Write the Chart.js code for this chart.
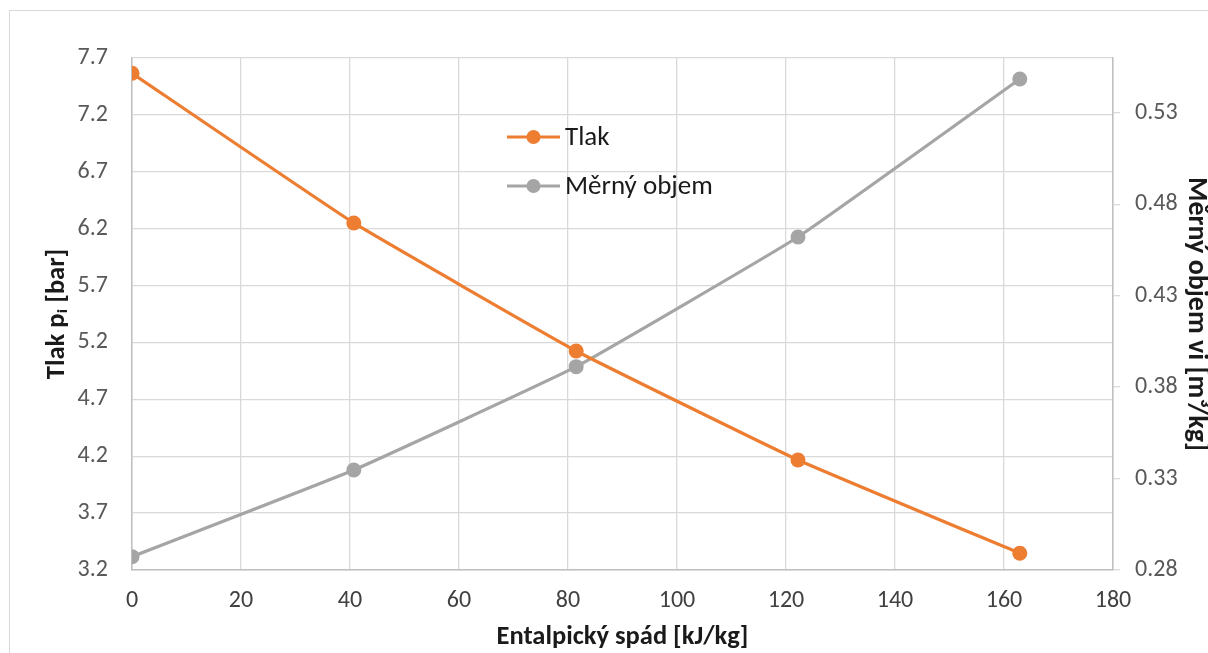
<!DOCTYPE html>
<html>
<head>
<meta charset="utf-8">
<script src="https://cdn.jsdelivr.net/npm/chart.js@4/dist/chart.umd.min.js"></script>
<style>
  html, body { margin: 0; padding: 0; background: #ffffff; }
  #wrap { position: relative; width: 1208px; height: 653px; }
</style>
</head>
<body>
<div id="wrap"><canvas id="c" width="1208" height="653"></canvas></div>
<script>
// ---- data ----
const enthalpyDrop = [0, 40.7, 81.5, 122.2, 162.9];           // x values [kJ/kg]
const pressure     = [7.566, 6.25, 5.125, 4.167, 3.347];       // Tlak p_i [bar]
const specVolume   = [0.2873, 0.3347, 0.3912, 0.4621, 0.5485]; // Měrný objem [m3/kg]
const seriesNames  = ['Tlak', 'Měrný objem'];
const xTicks      = [0, 20, 40, 60, 80, 100, 120, 140, 160, 180];
const leftTicks   = [3.2, 3.7, 4.2, 4.7, 5.2, 5.7, 6.2, 6.7, 7.2, 7.7];
const rightTicks  = [0.28, 0.33, 0.38, 0.43, 0.48, 0.53];
const rightMax    = 0.56;
const xTitle = 'Entalpický spád [kJ/kg]';
const yLeftTitle = 'Tlak pᵢ [bar]';
const yRightTitle = 'Měrný objem vi [m³/kg]';

const ORANGE = '#ED7D31';
const GRAY = '#A5A5A5';
const FONT = 'Carlito, Lato, "Liberation Sans", sans-serif';

const toXY = (xs, ys) => xs.map((x, i) => ({ x: x, y: ys[i] }));
const setTicks = arr => s => { s.ticks = arr.map(v => ({ value: v })); };

const frame = {
  id: 'frame',
  beforeDraw(chart) {
    const ctx = chart.ctx;
    ctx.save();
    ctx.fillStyle = '#ffffff';
    ctx.fillRect(0, 0, chart.width, chart.height);
    ctx.strokeStyle = '#d9d9d9';
    ctx.lineWidth = 1;
    ctx.strokeRect(9.5, 10.5, chart.width + 20, chart.height + 20);
    ctx.restore();
  }
};

const legendInside = {
  id: 'legendInside',
  afterDraw(chart) {
    const ctx = chart.ctx;
    const ds = chart.data.datasets;
    const x0 = 507, x1 = 560, ys = [137, 186];
    ctx.save();
    ds.forEach((d, i) => {
      const y = ys[i];
      ctx.strokeStyle = d.borderColor;
      ctx.lineWidth = 3;
      ctx.beginPath();
      ctx.moveTo(x0, y);
      ctx.lineTo(x1, y);
      ctx.stroke();
      ctx.fillStyle = d.backgroundColor;
      ctx.beginPath();
      ctx.arc((x0 + x1) / 2, y, 7, 0, Math.PI * 2);
      ctx.fill();
      ctx.fillStyle = '#1a1a1a';
      ctx.font = '27px ' + FONT;
      ctx.textBaseline = 'middle';
      ctx.textAlign = 'left';
      ctx.fillText(d.label, x1 + 5, y + 1);
    });
    ctx.restore();
  }
};

const titleFont = { family: FONT, size: 26.5, weight: 'bold', lineHeight: 1 };
const tickFont = { family: FONT, size: 24 };

new Chart(document.getElementById('c'), {
  type: 'line',
  data: {
    datasets: [
      {
        label: seriesNames[0],
        data: toXY(enthalpyDrop, pressure),
        yAxisID: 'y',
        borderColor: ORANGE,
        backgroundColor: ORANGE,
        borderWidth: 3.2,
        pointRadius: 7.5,
        pointHoverRadius: 7.5,
        pointBorderWidth: 0,
        tension: 0.1
      },
      {
        label: seriesNames[1],
        data: toXY(enthalpyDrop, specVolume),
        yAxisID: 'y2',
        borderColor: GRAY,
        backgroundColor: GRAY,
        borderWidth: 3.2,
        pointRadius: 7.5,
        pointHoverRadius: 7.5,
        pointBorderWidth: 0,
        tension: 0.1
      }
    ]
  },
  options: {
    responsive: false,
    animation: false,
    layout: { padding: { top: 58, left: 0, right: 0, bottom: 0 } },
    plugins: { legend: { display: false }, tooltip: { enabled: false } },
    scales: {
      x: {
        type: 'linear',
        min: xTicks[0], max: xTicks[xTicks.length - 1],
        afterBuildTicks: setTicks(xTicks),
        ticks: { color: '#404040', font: tickFont, padding: 17 },
        grid: { color: '#d9d9d9', lineWidth: 1.3, drawTicks: false },
        border: { color: '#bfbfbf', width: 1.5 },
        title: { display: true, text: xTitle, color: '#1a1a1a', font: titleFont, padding: { top: 0, bottom: 2 } },
        afterFit(s) { s.height = 83; }
      },
      y: {
        position: 'left',
        min: leftTicks[0], max: leftTicks[leftTicks.length - 1],
        afterBuildTicks: setTicks(leftTicks),
        ticks: { color: '#595959', font: tickFont, padding: 24,
                 callback: v => Number(v).toFixed(1) },
        grid: { color: '#d9d9d9', lineWidth: 1.3, drawTicks: false },
        border: { color: '#bfbfbf', width: 1.5 },
        title: { display: true, text: yLeftTitle, color: '#1a1a1a', font: titleFont, padding: { top: 44, bottom: 0 } },
        afterFit(s) { s.width = 132; }
      },
      y2: {
        position: 'right',
        min: rightTicks[0], max: rightMax,
        afterBuildTicks: setTicks(rightTicks),
        ticks: { color: '#595959', font: tickFont, padding: 15,
                 callback: v => Number(v).toFixed(2) },
        grid: { drawOnChartArea: false, color: '#d9d9d9', tickLength: 7, lineWidth: 1.3 },
        border: { color: '#bfbfbf', width: 1.5 },
        title: { display: true, text: yRightTitle, color: '#1a1a1a',
                 font: { family: FONT, size: 28, weight: 'bold', lineHeight: 1 }, padding: { top: -2, bottom: 0 } },
        afterFit(s) { s.width = 95; }
      }
    }
  },
  plugins: [frame, legendInside]
});
</script>
</body>
</html>
